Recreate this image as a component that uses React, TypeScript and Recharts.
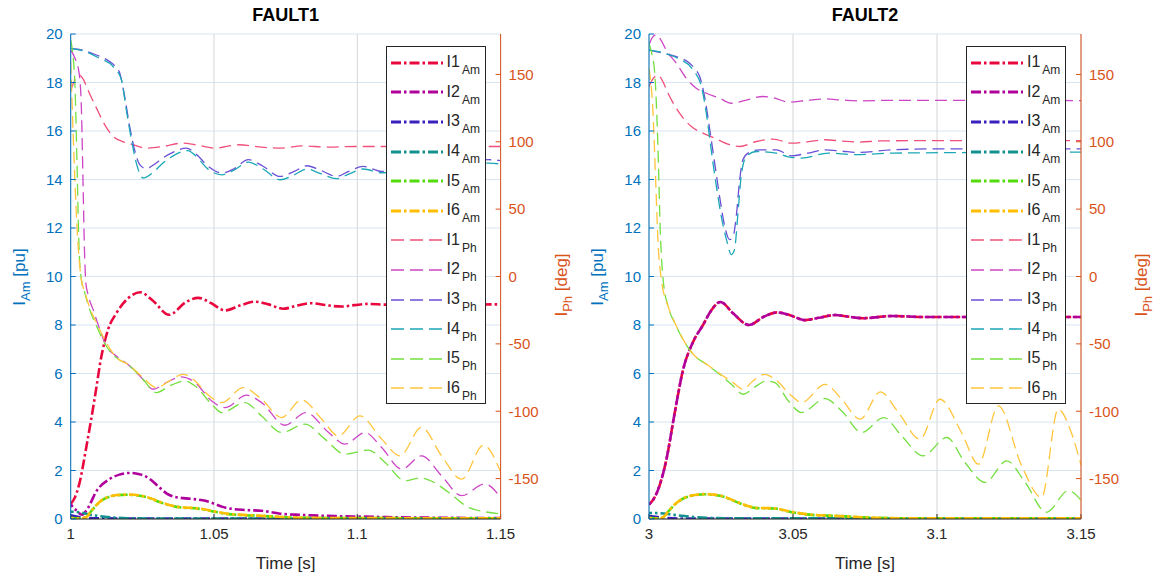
import React from "react";
import { CartesianGrid, Line, LineChart, XAxis, YAxis } from "recharts";

type Pt = [number, number];

// [ms after fault start, value]; amplitudes in pu, phases in deg
const F1_I1_AM: Pt[] = [[0, 0.62], [1.5, 0.9], [3, 1.45], [5.5, 3.0], [8.4, 5.0], [10.7, 6.7], [13, 7.8], [16, 8.5], [20, 9.1], [24.3, 9.35], [28.7, 9.0], [34.3, 8.42], [40.3, 8.95], [44.5, 9.12], [49, 8.9], [53.8, 8.6], [59, 8.8], [64.3, 8.96], [69, 8.85], [74.2, 8.67], [79, 8.8], [84, 8.9], [89, 8.82], [94.5, 8.76], [99, 8.82], [104, 8.87], [110, 8.84], [150, 8.85]];
const F1_I2_AM: Pt[] = [[0, 0.6], [2, 0.35], [4, 0.18], [6, 0.45], [9, 1.15], [13.6, 1.65], [17, 1.83], [20.6, 1.9], [24, 1.85], [27.6, 1.65], [30.5, 1.35], [33.4, 1.06], [36, 0.92], [39.2, 0.86], [43, 0.82], [47, 0.75], [50.3, 0.62], [53, 0.5], [56, 0.42], [61, 0.37], [66.6, 0.34], [70, 0.28], [73, 0.22], [78, 0.18], [84, 0.15], [92, 0.12], [101, 0.1], [115, 0.07], [130, 0.05], [150, 0.04]];
const F1_I3_AM: Pt[] = [[0, 0.15], [2, 0.1], [5, 0.05], [10, 0.03], [20, 0.02], [150, 0.02]];
const F1_I4_AM: Pt[] = [[0, 0.3], [3, 0.28], [6, 0.2], [10, 0.12], [15, 0.06], [20, 0.03], [30, 0.02], [150, 0.02]];
const F1_I5_AM: Pt[] = [[0, 0.05], [3, 0.02], [5.5, 0.08], [7, 0.3], [9, 0.57], [11, 0.78], [13.6, 0.92], [16, 0.98], [19.4, 1.0], [22, 0.99], [25.2, 0.94], [28, 0.84], [31, 0.7], [34, 0.58], [36.9, 0.5], [40, 0.46], [43.4, 0.44], [47, 0.38], [50.3, 0.3], [55, 0.2], [60, 0.16], [66.6, 0.13], [72, 0.09], [78, 0.06], [90, 0.04], [150, 0.03]];
const F1_I6_AM: Pt[] = [[0, 0.04], [3, 0.02], [5.5, 0.08], [7, 0.31], [9, 0.58], [11, 0.79], [13.6, 0.93], [16, 0.99], [19.4, 1.01], [22, 1.0], [25.2, 0.95], [28, 0.85], [31, 0.71], [34, 0.59], [36.9, 0.51], [40, 0.47], [43.4, 0.45], [47, 0.39], [50.3, 0.31], [55, 0.21], [60, 0.17], [66.6, 0.13], [72, 0.09], [78, 0.06], [90, 0.04], [150, 0.03]];

const F1_I1_PH: Pt[] = [[0, 138], [1.5, 146], [3.1, 149.5], [4.5, 146], [6, 138.5], [9, 125], [11.9, 112.6], [14.8, 104], [18.3, 100], [22.3, 97.5], [26.4, 95.3], [32.2, 96.5], [39, 99], [43.4, 97.8], [50.3, 95.3], [58.6, 97.8], [66.6, 96], [73.6, 95.3], [80.6, 97], [89.9, 96], [99.2, 96.5], [150, 96.5]];
const F1_I2_PH: Pt[] = [[0, 168], [1.5, 162], [3, 150], [3.8, 120], [4.3, 70], [4.8, 20], [5.3, -5], [6, -13], [7.8, -24.4], [10.1, -39], [12.4, -51.6], [15.9, -59], [20.6, -66.4], [25.2, -76.3], [28.7, -83.7], [33.4, -78.7], [38.5, -74.5], [43.4, -78.7], [49.2, -92.4], [54, -97.3], [61.4, -88.1], [66.6, -93.6], [74.8, -110.4], [82, -101], [90, -115.8], [95.7, -124.4], [102.7, -115.8], [108.5, -126.9], [115.5, -143], [122.4, -133.1], [129.4, -147.9], [136.4, -162.7], [144.5, -154], [150, -164]];
const F1_I3_PH: Pt[] = [[0, 169.4], [4.3, 168], [9, 164.4], [13.6, 159.5], [15.5, 156], [17.1, 151], [18.8, 134], [20.6, 111], [22.3, 94], [24.1, 83], [26.4, 80], [29, 83], [32.2, 88], [36, 92.5], [40.3, 95.3], [43.4, 91.6], [48, 81.7], [52.7, 76.8], [57, 80], [62, 86.7], [67, 82], [73.1, 74.3], [78, 78], [82.4, 82.2], [87, 79], [92.8, 74.3], [97, 78], [102.1, 81.7], [108.5, 78], [120, 80], [135, 84], [145.7, 86.7], [150, 86]];
const F1_I4_PH: Pt[] = [[0, 169.4], [5, 167], [10, 162], [14.8, 155.8], [17.7, 146], [19.4, 123.7], [21.2, 101.5], [22.9, 84.2], [25.2, 73.1], [28, 76], [32.2, 84.2], [36.5, 90.5], [40.9, 93.5], [43.4, 90], [48, 79.5], [52.7, 75.5], [57, 79], [62, 84.9], [67, 80], [73.1, 71.8], [78, 75.5], [82.4, 79.8], [87, 76.5], [92.8, 72.6], [97, 76], [102.1, 79.8], [108.5, 77], [120, 78], [135, 82], [145.7, 84.2], [150, 83.5]];
const F1_I5_PH: Pt[] = [[0, 175.5], [1.4, 146], [2.2, 84], [2.9, 22], [3.7, -2], [4.9, -12], [6.6, -24.4], [9, -36.8], [12.4, -51.6], [15.9, -60.2], [20.6, -66.4], [25.2, -76.3], [29.9, -86.2], [34.5, -81.2], [39.8, -77.5], [43.4, -81.3], [49.2, -94.8], [52.7, -101], [60.8, -93.6], [66.6, -103.5], [73.6, -115.8], [81.7, -109.6], [88.7, -120.7], [95.7, -131.9], [103.8, -128.9], [109.7, -138], [116.6, -151.5], [122, -149.5], [126, -152], [131.7, -160], [138.7, -171.3], [144.5, -174.6], [150, -176.3]];
const F1_I6_PH: Pt[] = [[0, 159.5], [0.8, 109], [1.7, 59.5], [2.6, 22.4], [3.7, -2], [5, -12], [6.6, -23], [9, -34.3], [12.4, -49], [15.9, -60], [20.6, -66], [25.2, -75], [29.9, -82.5], [34.5, -77.5], [39.2, -72.6], [43.4, -77.5], [48, -88], [52.7, -93.6], [60.2, -82.5], [66.6, -91.1], [73.6, -104.7], [80.6, -91.6], [87.6, -105.9], [93.4, -118.3], [100.9, -103.5], [108.5, -120.7], [114.9, -133.1], [122.4, -112], [129.4, -133.1], [136.4, -150.4], [144, -125.2], [150, -145]];

const F2_I1_AM: Pt[] = [[0, 0.6], [2, 0.9], [4, 1.5], [6, 2.43], [8.9, 4.36], [11.8, 6.14], [15.3, 7.3], [18.75, 8.0], [21.6, 8.6], [24.8, 8.95], [29.2, 8.48], [34.7, 8.0], [40, 8.35], [44.5, 8.52], [49, 8.4], [54.2, 8.2], [59, 8.3], [64.6, 8.41], [69, 8.35], [74.4, 8.28], [84.3, 8.37], [95.8, 8.33], [150, 8.33]];
const F2_I2_AM: Pt[] = [[0, 0.6], [2, 0.9], [4, 1.5], [6, 2.43], [8.9, 4.36], [11.8, 6.14], [15.3, 7.3], [18.75, 8.0], [21.6, 8.6], [24.8, 8.95], [29.2, 8.48], [34.7, 8.0], [40, 8.35], [44.5, 8.52], [49, 8.4], [54.2, 8.2], [59, 8.3], [64.6, 8.41], [69, 8.35], [74.4, 8.28], [84.3, 8.37], [95.8, 8.33], [150, 8.33]];
const F2_I3_AM: Pt[] = [[0, 0.12], [3, 0.08], [6, 0.04], [12, 0.02], [150, 0.02]];
const F2_I4_AM: Pt[] = [[0, 0.25], [4, 0.24], [8, 0.18], [14, 0.1], [20, 0.05], [28, 0.03], [150, 0.02]];
const F2_I5_AM: Pt[] = [[0, 0.05], [3, 0.02], [4.9, 0.07], [7, 0.35], [9.5, 0.65], [12, 0.85], [14.1, 0.94], [17, 1.0], [19.3, 1.02], [22, 1.0], [25.1, 0.95], [28, 0.82], [31.5, 0.65], [34.5, 0.52], [37.3, 0.45], [41, 0.44], [43.75, 0.43], [47, 0.35], [50.7, 0.26], [54, 0.2], [57.6, 0.16], [62, 0.14], [66.9, 0.12], [72, 0.08], [78.5, 0.05], [90, 0.03], [150, 0.03]];
const F2_I6_AM: Pt[] = [[0, 0.04], [3, 0.02], [4.9, 0.07], [7, 0.36], [9.5, 0.66], [12, 0.86], [14.1, 0.95], [17, 1.01], [19.3, 1.03], [22, 1.01], [25.1, 0.96], [28, 0.83], [31.5, 0.66], [34.5, 0.53], [37.3, 0.46], [41, 0.45], [43.75, 0.44], [47, 0.36], [50.7, 0.27], [54, 0.21], [57.6, 0.17], [62, 0.14], [66.9, 0.12], [72, 0.08], [78.5, 0.05], [90, 0.03], [150, 0.03]];

const F2_I1_PH: Pt[] = [[0, 141], [1.5, 147], [3.1, 149.6], [4.5, 146], [6.6, 136], [10.6, 121.3], [14.7, 111.3], [18.75, 106.4], [22.8, 102.7], [28, 97.8], [31.5, 96.5], [37.3, 100.2], [43, 102], [49.5, 99], [55, 100], [61.1, 101.5], [67, 100.5], [72.7, 99.8], [80, 100.6], [90, 100.8], [150, 100.8]];
const F2_I2_PH: Pt[] = [[0, 172], [1.2, 177.5], [2.5, 179.5], [4, 176], [6, 168], [9.5, 158.3], [13, 147], [16.4, 139.8], [19.9, 136], [24.5, 132.4], [28.6, 128.6], [33.8, 131], [39.6, 133.6], [43.75, 132.4], [48.4, 129.4], [55, 130.8], [61.1, 131.8], [67, 131], [72.7, 130.4], [85, 130.8], [150, 130.6]];
const F2_I3_PH: Pt[] = [[0, 168], [4.9, 165.7], [9.5, 163.2], [14.1, 158.3], [16, 154], [17.6, 148.4], [19.3, 133.6], [21.1, 108.9], [22.8, 84.2], [24.5, 59.5], [26.3, 37.3], [28, 27.4], [29.2, 29.8], [30.3, 44.7], [31.5, 71.9], [32.6, 86.7], [34.4, 91.6], [38.4, 94], [44.2, 94], [49.5, 89.6], [55, 91.5], [61.1, 94], [67, 93], [72.7, 92.1], [84.3, 94], [101.6, 94.8], [150, 94.8]];
const F2_I4_PH: Pt[] = [[0, 168], [5, 166], [10, 162], [15.3, 153.3], [18.2, 141], [19.9, 121.3], [21.6, 94], [23.4, 66.9], [25.1, 44.7], [26.9, 27.4], [28.6, 16.3], [29.7, 20], [30.8, 44.7], [32, 74.3], [33.8, 89.1], [37.3, 92.8], [44.2, 91.6], [48, 89], [53, 87.9], [62.3, 91.6], [71.5, 90.4], [85, 91.6], [150, 92.3]];
const F2_I5_PH: Pt[] = [[0, 173], [1, 165], [2, 150.9], [3.1, 96.5], [3.9, 34.8], [4.9, -2.2], [6.6, -22], [8.9, -34.3], [11.8, -46.7], [15.3, -57.8], [19.9, -65.2], [24.5, -72.6], [29.2, -81.2], [32.6, -87.4], [37.3, -81.2], [40.7, -77.5], [43.75, -78.8], [48.4, -92.4], [53, -101], [61.1, -90.6], [66.9, -99.8], [73.9, -115.8], [81.5, -104.7], [87.7, -118.3], [95.2, -133.1], [103.4, -119.5], [109.7, -138], [116.7, -152.8], [124.2, -136.8], [130.6, -152.8], [138, -175], [145.6, -159], [150, -166]];
const F2_I6_PH: Pt[] = [[0, 154.6], [1.4, 121.3], [2.3, 71.9], [3.2, 22.4], [4.3, -2.2], [6.6, -22], [8.9, -34], [11.8, -46.5], [15.3, -57.5], [19.9, -65], [24.5, -72], [29.2, -78.8], [32.6, -83.7], [36.1, -77.5], [40.2, -72.6], [43.75, -76.3], [49.5, -88.6], [53, -93.6], [61.1, -80], [66.9, -91.1], [73.3, -105.9], [80.3, -85.7], [86.6, -101], [94.1, -120.7], [101, -91.1], [108.5, -115.8], [114.4, -139.3], [121.3, -96], [129.4, -140.5], [136.3, -164], [142.1, -98.5], [146.2, -113.3], [150, -140]];

const NAMES = ["I1", "I2", "I3", "I4", "I5", "I6"];
const AM_COLORS = ["#e8083e", "#b0009c", "#3a1fbe", "#13918f", "#52dc0c", "#ffbe00"];
const PH_COLORS = ["#f0507a", "#cc45c4", "#6a4fd6", "#1ba7b6", "#74df3e", "#ffc53c"];
const LEFT_TICKS = [0, 2, 4, 6, 8, 10, 12, 14, 16, 18, 20];
const RIGHT_TICKS = [-150, -100, -50, 0, 50, 100, 150];
const F1_TICKS = [1, 1.05, 1.1, 1.15];
const F2_TICKS = [3, 3.05, 3.1, 3.15];

const BLUE = "#0072BD";
const ORANGE = "#D95319";
const INK = "#262626";
const AM_DASH = "10 3 2.5 3";
const PH_DASH = "12 6";

const W = 579;
const H = 577;
const TOP = 34;
const BOTTOM = 519;

const toData = (pts: Pt[], t0: number) => pts.map(([ms, v]) => ({ t: t0 + ms / 1000, v }));

function Legend({ left }: { left: number }) {
  const rows = [
    ...NAMES.map((n, i) => ({ n, sub: "Am", color: AM_COLORS[i], am: true })),
    ...NAMES.map((n, i) => ({ n, sub: "Ph", color: PH_COLORS[i], am: false })),
  ];
  return (
    <div
      style={{
        position: "absolute",
        left,
        top: 46,
        width: 100,
        height: 358,
        border: `1px solid ${INK}`,
        background: "#fff",
        boxSizing: "border-box",
        paddingTop: 1,
      }}
    >
      {rows.map((r) => (
        <div key={r.n + r.sub} style={{ height: 29.6, display: "flex", alignItems: "center", position: "relative" }}>
          <svg width={54} height={10} style={{ marginLeft: 4 }}>
            <line
              x1={0}
              x2={52}
              y1={5}
              y2={5}
              stroke={r.color}
              strokeWidth={r.am ? 3 : 1.4}
              strokeDasharray={r.am ? AM_DASH : "13 6"}
            />
          </svg>
          <span style={{ fontSize: 16, color: INK, marginLeft: 2, lineHeight: "16px" }}>
            {r.n}
            <span style={{ fontSize: 12, position: "relative", top: 7, marginLeft: 2 }}>{r.sub}</span>
          </span>
        </div>
      ))}
    </div>
  );
}

function Panel({
  x,
  title,
  t0,
  ticks,
  am,
  ph,
  plotLeft,
  plotRight,
}: {
  x: number;
  title: string;
  t0: number;
  ticks: number[];
  am: Pt[][];
  ph: Pt[][];
  plotLeft: number;
  plotRight: number;
}) {
  const cx = (plotLeft + plotRight) / 2;
  const cy = (TOP + BOTTOM) / 2;
  const domain = [ticks[0], ticks[ticks.length - 1]];
  return (
    <div style={{ position: "absolute", left: x, top: 0, width: W, height: H }}>
      <LineChart
        width={W}
        height={H}
        margin={{ top: TOP, right: W - plotRight - 40, bottom: H - BOTTOM - 30, left: plotLeft - 40 }}
      >
        <CartesianGrid yAxisId="left" vertical={false} stroke="#d7e6f3" strokeWidth={1} />
        <CartesianGrid yAxisId="left" horizontal={false} stroke="#d6d6d6" strokeWidth={1} />
        <XAxis
          dataKey="t"
          type="number"
          domain={domain}
          ticks={ticks}
          interval={0}
          allowDataOverflow
          height={30}
          tickSize={-5}
          tickMargin={14}
          axisLine={{ stroke: INK }}
          tickLine={{ stroke: INK }}
          tick={{ fill: INK, fontSize: 15 }}
        />
        <XAxis
          xAxisId="top"
          orientation="top"
          dataKey="t"
          type="number"
          domain={domain}
          ticks={ticks}
          allowDataOverflow
          height={0}
          tick={false}
          tickLine={false}
          axisLine={{ stroke: INK }}
        />
        <YAxis
          yAxisId="left"
          domain={[0, 20]}
          ticks={LEFT_TICKS}
          interval={0}
          allowDataOverflow
          width={40}
          tickSize={-5}
          tickMargin={13}
          axisLine={{ stroke: BLUE }}
          tickLine={{ stroke: BLUE }}
          tick={{ fill: BLUE, fontSize: 15 }}
        />
        <YAxis
          yAxisId="right"
          orientation="right"
          domain={[-180, 180]}
          ticks={RIGHT_TICKS}
          interval={0}
          allowDataOverflow
          width={40}
          tickSize={-5}
          tickMargin={13}
          axisLine={{ stroke: ORANGE }}
          tickLine={{ stroke: ORANGE }}
          tick={{ fill: ORANGE, fontSize: 15 }}
        />
        {am.map((pts, i) => (
          <Line
            key={"am" + i}
            yAxisId="left"
            data={toData(pts, t0)}
            dataKey="v"
            type="monotone"
            stroke={AM_COLORS[i]}
            strokeWidth={2.6}
            strokeDasharray={AM_DASH}
            strokeDashoffset={i % 2 === 1 ? 7 : 0}
            dot={false}
            activeDot={false}
            isAnimationActive={false}
          />
        ))}
        {ph.map((pts, i) => (
          <Line
            key={"ph" + i}
            yAxisId="right"
            data={toData(pts, t0)}
            dataKey="v"
            type="monotone"
            stroke={PH_COLORS[i]}
            strokeWidth={1.3}
            strokeDasharray={PH_DASH}
            dot={false}
            activeDot={false}
            isAnimationActive={false}
          />
        ))}
      </LineChart>

      <div style={{ position: "absolute", left: cx - 100, width: 200, top: 5, textAlign: "center", fontWeight: "bold", fontSize: 18, color: "#000" }}>
        {title}
      </div>
      <div style={{ position: "absolute", left: cx - 100, width: 200, top: 554, textAlign: "center", fontSize: 17, color: INK }}>
        Time [s]
      </div>
      <div
        style={{
          position: "absolute",
          left: plotLeft - 51,
          top: cy,
          transform: "translate(-50%, -50%) rotate(-90deg)",
          whiteSpace: "nowrap",
          fontSize: 17,
          color: BLUE,
        }}
      >
        I<span style={{ fontSize: 13, position: "relative", top: 5 }}>Am</span> [pu]
      </div>
      <div
        style={{
          position: "absolute",
          left: plotRight + 61,
          top: cy + 8,
          transform: "translate(-50%, -50%) rotate(-90deg)",
          whiteSpace: "nowrap",
          fontSize: 17,
          color: ORANGE,
        }}
      >
        I<span style={{ fontSize: 13, position: "relative", top: 5 }}>Ph</span> [deg]
      </div>
      <Legend left={plotRight - 115} />
    </div>
  );
}

export default function App() {
  return (
    <div
      style={{
        position: "absolute",
        left: 0,
        top: 0,
        width: 1158,
        height: 577,
        background: "#fff",
        fontFamily: "'Liberation Sans', Arial, sans-serif",
        overflow: "hidden",
      }}
    >
      <Panel
        x={0}
        title="FAULT1"
        t0={1}
        ticks={F1_TICKS}
        am={[F1_I1_AM, F1_I2_AM, F1_I3_AM, F1_I4_AM, F1_I5_AM, F1_I6_AM]}
        ph={[F1_I1_PH, F1_I2_PH, F1_I3_PH, F1_I4_PH, F1_I5_PH, F1_I6_PH]}
        plotLeft={70.7}
        plotRight={500.6}
      />
      <Panel
        x={579}
        title="FAULT2"
        t0={3}
        ticks={F2_TICKS}
        am={[F2_I1_AM, F2_I2_AM, F2_I3_AM, F2_I4_AM, F2_I5_AM, F2_I6_AM]}
        ph={[F2_I1_PH, F2_I2_PH, F2_I3_PH, F2_I4_PH, F2_I5_PH, F2_I6_PH]}
        plotLeft={70}
        plotRight={502}
      />
    </div>
  );
}
